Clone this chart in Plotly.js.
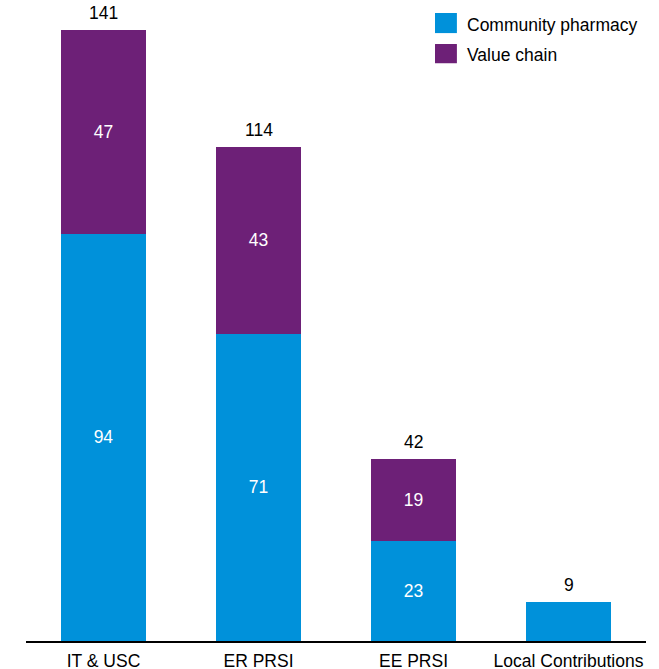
<!DOCTYPE html>
<html><head><meta charset="utf-8">
<script src="https://cdn.plot.ly/plotly-3.0.1.min.js"></script>
<style>html,body{margin:0;padding:0;background:#fff}</style>
</head><body>
<div id="chart" style="width:659px;height:669px"></div>
<script>
const categories = ["IT & USC", "ER PRSI", "EE PRSI", "Local Contributions"];
const communityPharmacy = [94, 71, 23, 9];
const valueChain = [47, 43, 19, null];
const totals = [141, 114, 42, 9];
// inside labels shown only where the reference shows them
const communityLabels = ["94", "71", "23", ""];
const valueChainLabels = ["47", "43", "19", ""];

const FONT = "Liberation Sans, Arial, sans-serif";
const FS = 17.5;
const BLUE = "#0091DA";
const PURPLE = "#6D2077";

const traces = [
  {type: "bar", name: "Community pharmacy", x: categories, y: communityPharmacy,
   marker: {color: BLUE}, text: communityLabels, textposition: "inside",
   insidetextanchor: "middle", textfont: {color: "#fff", size: FS, family: FONT},
   showlegend: false, hoverinfo: "none"},
  {type: "bar", name: "Value chain", x: categories, y: valueChain,
   marker: {color: PURPLE}, text: valueChainLabels, textposition: "inside",
   insidetextanchor: "middle", textfont: {color: "#fff", size: FS, family: FONT},
   showlegend: false, hoverinfo: "none"}
];

const totalAnnotations = categories.map((c, i) => ({
  x: c, y: totals[i], xref: "x", yref: "y", text: String(totals[i]),
  showarrow: false, yanchor: "bottom", yshift: 5,
  font: {size: FS, color: "#000", family: FONT}
}));

const layout = {
  width: 659, height: 669,
  margin: {l: 26, r: 13, t: 13, b: 28},
  barmode: "stack", bargap: 0.45,
  paper_bgcolor: "#fff", plot_bgcolor: "#fff",
  font: {family: FONT, size: FS, color: "#000"},
  xaxis: {range: [-0.5, 3.5], showline: true, linecolor: "#000", linewidth: 1.5,
          ticks: "", showgrid: false, zeroline: false, ticklabelstandoff: 3,
          tickfont: {size: FS, color: "#000", family: FONT}},
  yaxis: {range: [0, 145], visible: false, showgrid: false, zeroline: false},
  shapes: [
    {type: "rect", xref: "paper", yref: "paper", x0: 0.6597, x1: 0.695, y0: 0.968, y1: 1.0,
     fillcolor: BLUE, line: {width: 0}},
    {type: "rect", xref: "paper", yref: "paper", x0: 0.6597, x1: 0.695, y0: 0.920, y1: 0.9506,
     fillcolor: PURPLE, line: {width: 0}}
  ],
  annotations: totalAnnotations.concat([
    {xref: "paper", yref: "paper", x: 0.708, y: 0.981, xanchor: "left", yanchor: "middle",
     text: "Community pharmacy", showarrow: false, font: {size: FS, color: "#000"}},
    {xref: "paper", yref: "paper", x: 0.708, y: 0.933, xanchor: "left", yanchor: "middle",
     text: "Value chain", showarrow: false, font: {size: FS, color: "#000"}}
  ])
};

Plotly.newPlot("chart", traces, layout, {displayModeBar: false, staticPlot: true});
</script>
</body></html>
